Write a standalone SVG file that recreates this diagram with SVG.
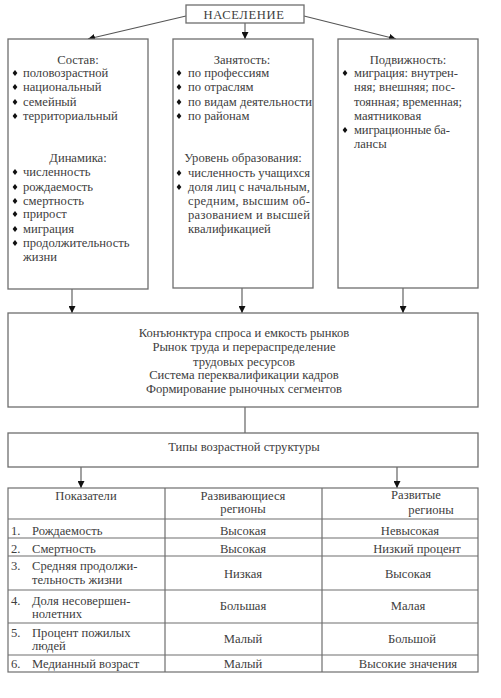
<svg xmlns="http://www.w3.org/2000/svg" width="501" height="698" viewBox="0 0 501 698">
<defs>
<style>
.box{fill:#fff;stroke:#6e6e6e;stroke-width:1.3}
.t{font-family:"Liberation Serif","Times New Roman","DejaVu Serif",serif;font-size:12.6px;fill:#404040}
.c{text-anchor:middle}
.ln{stroke:#555;stroke-width:1.1;fill:none}
.grid{stroke:#6e6e6e;stroke-width:1.2;fill:none}
</style>
<marker id="ah" viewBox="0 0 10 10" refX="10" refY="5" markerWidth="7" markerHeight="7" markerUnits="userSpaceOnUse" orient="auto">
<path d="M0,0 L10,5 L0,10 z" fill="#111"/>
</marker>
<path id="b" d="M0,-3 L2.4,0 L0,3 L-2.4,0 z" fill="#111"/>
</defs>
<rect width="501" height="698" fill="#fff"/>

<g id="connectors">
<line class="ln" x1="186" y1="16" x2="88" y2="39" marker-end="url(#ah)"/>
<line class="ln" x1="245" y1="23" x2="245" y2="39" marker-end="url(#ah)"/>
<line class="ln" x1="304" y1="16" x2="396" y2="39" marker-end="url(#ah)"/>
<line class="ln" x1="72" y1="289" x2="72" y2="313" marker-end="url(#ah)"/>
<line class="ln" x1="242" y1="288" x2="242" y2="313" marker-end="url(#ah)"/>
<line class="ln" x1="403" y1="288" x2="403" y2="313" marker-end="url(#ah)"/>
<line class="ln" x1="245" y1="407" x2="245" y2="433"/>
<line class="ln" x1="81" y1="467" x2="81" y2="488" marker-end="url(#ah)"/>
<line class="ln" x1="397" y1="467" x2="397" y2="488" marker-end="url(#ah)"/>
</g>

<g id="n-naselenie">
<rect class="box" x="186" y="5" width="118" height="18"/>
<text class="t c" x="244" y="19" letter-spacing="0.6">НАСЕЛЕНИЕ</text>
</g>

<g id="n-sostav">
<rect class="box" x="8" y="39" width="140" height="250"/>
<text class="t c" x="78" y="64">Состав:</text>
<use href="#b" x="15" y="73"/><text class="t" x="23" y="77">половозрастной</text>
<use href="#b" x="15" y="87"/><text class="t" x="23" y="91">национальный</text>
<use href="#b" x="15" y="102"/><text class="t" x="23" y="106">семейный</text>
<use href="#b" x="15" y="116"/><text class="t" x="23" y="120">территориальный</text>
<text class="t c" x="78" y="162">Динамика:</text>
<use href="#b" x="15" y="172"/><text class="t" x="23" y="176">численность</text>
<use href="#b" x="15" y="187"/><text class="t" x="23" y="191">рождаемость</text>
<use href="#b" x="15" y="201"/><text class="t" x="23" y="205">смертность</text>
<use href="#b" x="15" y="214"/><text class="t" x="23" y="218">прирост</text>
<use href="#b" x="15" y="229"/><text class="t" x="23" y="233">миграция</text>
<use href="#b" x="15" y="243"/><text class="t" x="23" y="247">продолжительность</text>
<text class="t" x="23" y="261">жизни</text>
</g>

<g id="n-zanyatost">
<rect class="box" x="173" y="39" width="140" height="249"/>
<text class="t c" x="242" y="64">Занятость:</text>
<use href="#b" x="179" y="73"/><text class="t" x="188" y="77">по профессиям</text>
<use href="#b" x="179" y="87"/><text class="t" x="188" y="91">по отраслям</text>
<use href="#b" x="179" y="102"/><text class="t" x="188" y="106">по видам деятельности</text>
<use href="#b" x="179" y="116"/><text class="t" x="188" y="120">по районам</text>
<text class="t c" x="243" y="162">Уровень образования:</text>
<use href="#b" x="179" y="173"/><text class="t" x="188" y="177" textLength="122" lengthAdjust="spacing">численность учащихся</text>
<use href="#b" x="179" y="187"/><text class="t" x="188" y="191" textLength="122" lengthAdjust="spacing">доля лиц с начальным,</text>
<text class="t" x="188" y="205" textLength="122" lengthAdjust="spacing">средним, высшим об-</text>
<text class="t" x="188" y="219" textLength="122" lengthAdjust="spacing">разованием и высшей</text>
<text class="t" x="188" y="233">квалификацией</text>
</g>

<g id="n-podvizhnost">
<rect class="box" x="338" y="39" width="140" height="249"/>
<text class="t c" x="408" y="64">Подвижность:</text>
<use href="#b" x="345" y="73"/><text class="t" x="354" y="77" textLength="104" lengthAdjust="spacing">миграция: внутрен-</text>
<text class="t" x="354" y="91" textLength="101" lengthAdjust="spacing">няя; внешняя; пос-</text>
<text class="t" x="354" y="106" textLength="108" lengthAdjust="spacing">тоянная; временная;</text>
<text class="t" x="354" y="120">маятниковая</text>
<use href="#b" x="345" y="130"/><text class="t" x="354" y="134" textLength="96" lengthAdjust="spacing">миграционные ба-</text>
<text class="t" x="354" y="148">лансы</text>
</g>

<g id="n-konyunktura">
<rect class="box" x="8" y="313" width="470" height="94"/>
<text class="t c" x="244" y="337">Конъюнктура спроса и емкость рынков</text>
<text class="t c" x="244" y="351">Рынок труда и перераспределение</text>
<text class="t c" x="244" y="366">трудовых ресурсов</text>
<text class="t c" x="244" y="379">Система переквалификации кадров</text>
<text class="t c" x="244" y="393">Формирование рыночных сегментов</text>
</g>

<g id="n-tipy">
<rect class="box" x="8" y="433" width="470" height="34"/>
<text class="t c" x="244" y="451">Типы возрастной структуры</text>
</g>

<g id="n-table">
<rect class="grid" x="8" y="488" width="470" height="184" stroke-width="1.6" stroke="#555"/>
<line class="grid" x1="165" y1="488" x2="165" y2="672"/>
<line class="grid" x1="322" y1="488" x2="322" y2="672"/>
<line class="grid" x1="8" y1="519" x2="478" y2="519"/>
<line class="grid" x1="8" y1="538" x2="478" y2="538"/>
<line class="grid" x1="8" y1="556" x2="478" y2="556"/>
<line class="grid" x1="8" y1="590" x2="478" y2="590"/>
<line class="grid" x1="8" y1="623" x2="478" y2="623"/>
<line class="grid" x1="8" y1="655" x2="478" y2="655"/>

<text class="t c" x="86" y="500">Показатели</text>
<text class="t c" x="243" y="500">Развивающиеся</text>
<text class="t c" x="243" y="513">регионы</text>
<text class="t c" x="416" y="499">Развитые</text>
<text class="t c" x="431" y="514">регионы</text>

<text class="t" x="11" y="535">1.</text><text class="t" x="32" y="535">Рождаемость</text>
<text class="t c" x="243" y="535">Высокая</text><text class="t c" x="410" y="535">Невысокая</text>

<text class="t" x="11" y="553">2.</text><text class="t" x="32" y="553">Смертность</text>
<text class="t c" x="243" y="553">Высокая</text><text class="t c" x="417" y="553">Низкий процент</text>

<text class="t" x="11" y="570">3.</text><text class="t" x="32" y="570">Средняя продолжи-</text>
<text class="t" x="32" y="584">тельность жизни</text>
<text class="t c" x="243" y="578">Низкая</text><text class="t c" x="408" y="578">Высокая</text>

<text class="t" x="11" y="605">4.</text><text class="t" x="32" y="605">Доля несовершен-</text>
<text class="t" x="32" y="618">нолетних</text>
<text class="t c" x="243" y="610">Большая</text><text class="t c" x="408" y="610">Малая</text>

<text class="t" x="11" y="637">5.</text><text class="t" x="32" y="637">Процент пожилых</text>
<text class="t" x="32" y="650">людей</text>
<text class="t c" x="243" y="643">Малый</text><text class="t c" x="412" y="643">Большой</text>

<text class="t" x="11" y="668">6.</text><text class="t" x="32" y="668">Медианный возраст</text>
<text class="t c" x="243" y="668">Малый</text><text class="t c" x="408" y="668">Высокие значения</text>
</g>
</svg>
